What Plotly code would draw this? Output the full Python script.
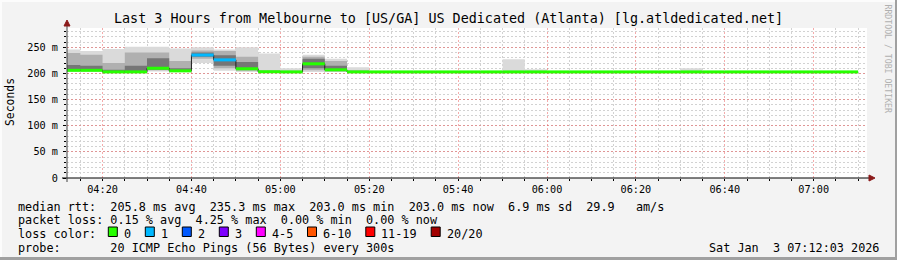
import plotly.graph_objects as go
import pandas as pd

# ---------------- data ----------------
seg_start = list(pd.date_range("2026-01-03 04:10", periods=36, freq="5min"))
seg_len = pd.Timedelta(minutes=5)

median_ms = [206, 206, 203, 203, 210, 205, 235.3, 226, 209, 203.3, 203, 218.5, 207, 203,
             203, 203, 203, 203, 203, 203, 203, 203, 203, 203, 203, 203, 203, 203,
             203, 203, 203, 203, 203, 203, 203, 203]
loss_cnt = [0, 0, 0, 0, 0, 0, 1, 1, 0, 0, 0, 0, 0, 0,
            0, 0, 0, 0, 0, 0, 0, 0, 0, 0, 0, 0, 0, 0,
            0, 0, 0, 0, 0, 0, 0, 0]

outer_lo = [203, 203, 202, 202, 204, 203, 220, 205, 203, 203, 203, 203, 203, 203,
            203, 203, 203, 203, 203, 203, 203, 203, 203, 203, 203, 203, 203, 203,
            203, 203, 203, 203, 203, 203, 203, 203]
outer_hi = [246, 243, 247, 251, 251, 248, 250, 246, 250, 238, 210, 236, 228, 212,
            203, 203, 203, 203, 203, 203, 227, 208, 203, 203, 203, 203, 203, 203,
            210, 203, 203, 203, 203, 203, 203, 203]
mid_lo = [205, 205, 202, 203, 206, 204, 228, 210, 205, 203, 203, 206, 204, 203,
          203, 203, 203, 203, 203, 203, 203, 203, 203, 203, 203, 203, 203, 203,
          203, 203, 203, 203, 203, 203, 203, 203]
mid_hi = [239, 236, 220, 240, 240, 224, 244, 243, 232, 206, 205, 232, 224, 206,
          203, 203, 203, 203, 203, 203, 203, 203, 203, 203, 203, 203, 203, 203,
          203, 203, 203, 203, 203, 203, 203, 203]
inner_lo = [205, 205, 202, 203, 207, 204, 232, 215, 207, 203, 203, 210, 205, 203,
            203, 203, 203, 203, 203, 203, 203, 203, 203, 203, 203, 203, 203, 203,
            203, 203, 203, 203, 203, 203, 203, 203]
inner_hi = [216, 215, 207, 215, 229, 210, 240, 235, 222, 204, 204, 228, 215, 204,
            203, 203, 203, 203, 203, 203, 203, 203, 203, 203, 203, 203, 203, 203,
            203, 203, 203, 203, 203, 203, 203, 203]

loss_labels = ["0", "1", "2", "3", "4-5", "6-10", "11-19", "20/20"]
loss_colors = ["#26ff00", "#00b8ff", "#0059ff", "#7e00ff", "#ff00ff", "#ff5500", "#ff0000", "#a10000"]

y_ticks = [0, 50, 100, 150, 200, 250]
y_ticktext = ["0", "50 m", "100 m", "150 m", "200 m", "250 m"]

title_text = "Last 3 Hours from Melbourne to [US/GA] US Dedicated (Atlanta) [lg.atldedicated.net]"
legend_lines = [
    "median rtt:  205.8 ms avg  235.3 ms max  203.0 ms min  203.0 ms now  6.9 ms sd  29.9   am/s",
    "packet loss: 0.15 % avg  4.25 % max  0.00 % min  0.00 % now",
    "loss color:",
    "probe:       20 ICMP Echo Pings (56 Bytes) every 300s",
]
date_text = "Sat Jan  3 07:12:03 2026"
watermark = "RRDTOOL / TOBI OETIKER"

# ---------------- geometry ----------------
W, H = 897, 260
L, R, T, B = 67, 867, 28, 178
MONO = "DejaVu Sans Mono"


def px(x):
    return (x - L) / (R - L)


def py(y):
    return (B - y) / (B - T)


fig = go.Figure()


def band(lo, hi, color):
    xs, ys = [], []
    for s, a, b in zip(seg_start, lo, hi):
        if b <= a:
            continue
        e = s + seg_len
        xs += [s, e, e, s, s, None]
        ys += [a, a, b, b, a, None]
    fig.add_trace(go.Scatter(x=xs, y=ys, mode="lines", fill="toself", fillcolor=color,
                             line=dict(width=0), hoverinfo="skip", showlegend=False))


band(outer_lo, outer_hi, "#dadada")
band(mid_lo, mid_hi, "#b0b0b0")
band(inner_lo, inner_hi, "#767676")

# thin dark median line (shows the vertical transitions)
fig.add_trace(go.Scatter(x=seg_start + [seg_start[-1] + seg_len], y=median_ms + [median_ms[-1]],
                         mode="lines", line=dict(color="#202020", width=1, shape="hv"),
                         hoverinfo="skip", showlegend=False))


def loss_bucket(n):
    if n <= 3:
        return n
    if n <= 5:
        return 4
    if n <= 10:
        return 5
    if n <= 19:
        return 6
    return 7


for k, col in enumerate(loss_colors):
    xs, ys = [], []
    for s, m, n in zip(seg_start, median_ms, loss_cnt):
        if loss_bucket(n) == k:
            xs += [s, s + seg_len, None]
            ys += [m, m, None]
    if xs:
        fig.add_trace(go.Scatter(x=xs, y=ys, mode="lines", line=dict(color=col, width=3),
                                 hoverinfo="skip", showlegend=False))

shapes = []
annotations = []

# axes lines + arrows
shapes.append(dict(type="line", xref="paper", yref="paper", x0=px(62), x1=px(869), y0=0, y1=0,
                   line=dict(color="#000000", width=1)))
shapes.append(dict(type="line", xref="paper", yref="paper", x0=0, x1=0, y0=py(182), y1=py(25),
                   line=dict(color="#404040", width=1)))
shapes.append(dict(type="path", xref="paper", yref="paper",
                   path=f"M {px(869)} {py(175)} L {px(875)} {py(178)} L {px(869)} {py(181)} Z",
                   fillcolor="#8b1a1a", line=dict(color="#8b1a1a", width=1)))
shapes.append(dict(type="path", xref="paper", yref="paper",
                   path=f"M {px(64)} {py(26)} L {px(67)} {py(20)} L {px(70)} {py(26)} Z",
                   fillcolor="#8b1a1a", line=dict(color="#8b1a1a", width=1)))

# image border (3D frame)
shapes.append(dict(type="rect", xref="paper", yref="paper", x0=px(895), x1=px(897), y0=py(0), y1=py(260),
                   fillcolor="#a0a0a0", line=dict(width=0)))
shapes.append(dict(type="rect", xref="paper", yref="paper", x0=px(0), x1=px(897), y0=py(257), y1=py(260),
                   fillcolor="#a0a0a0", line=dict(width=0)))
shapes.append(dict(type="rect", xref="paper", yref="paper", x0=px(0), x1=px(895), y0=py(0), y1=py(2),
                   fillcolor="#fcfcfc", line=dict(width=0)))
shapes.append(dict(type="rect", xref="paper", yref="paper", x0=px(0), x1=px(2), y0=py(0), y1=py(257),
                   fillcolor="#fcfcfc", line=dict(width=0)))

# title
annotations.append(dict(text=title_text, xref="paper", yref="paper", x=px(448.5), y=py(19),
                        xanchor="center", yanchor="middle", showarrow=False,
                        font=dict(family=MONO, size=13.4, color="#000")))
# y title
annotations.append(dict(text="Seconds", xref="paper", yref="paper", x=px(10), y=py(102),
                        xanchor="center", yanchor="middle", textangle=-90, showarrow=False,
                        font=dict(family=MONO, size=11.4, color="#000")))
# watermark
annotations.append(dict(text=watermark, xref="paper", yref="paper", x=px(887.5), y=py(59),
                        xanchor="center", yanchor="middle", textangle=90, showarrow=False,
                        font=dict(family=MONO, size=8.2, color="#b0b0b0")))

# legend text lines
row_y = [206.5, 220.5, 234.0, 248.3]
for line, yy in zip(legend_lines, row_y):
    annotations.append(dict(text=line.replace(" ", "\u00a0"), xref="paper", yref="paper",
                            x=px(16), y=py(yy), xanchor="left", yanchor="middle", showarrow=False,
                            font=dict(family=MONO, size=11.8, color="#000")))
annotations.append(dict(text=date_text.replace(" ", "\u00a0"), xref="paper", yref="paper",
                        x=px(881), y=py(248.3), xanchor="right", yanchor="middle", showarrow=False,
                        font=dict(family=MONO, size=11.8, color="#000")))

# loss colour boxes
bx = 108.3
for lab, col in zip(loss_labels, loss_colors):
    shapes.append(dict(type="rect", xref="paper", yref="paper", x0=px(bx), x1=px(bx + 9),
                       y0=py(236.5), y1=py(227), fillcolor=col, line=dict(color="#000", width=1)))
    annotations.append(dict(text=lab, xref="paper", yref="paper", x=px(bx + 13.5), y=py(234.0),
                            xanchor="left", yanchor="middle", showarrow=False,
                            font=dict(family=MONO, size=11.8, color="#000")))
    bx += 13.5 + len(lab) * 7.1 + 16.4

fig.update_layout(
    width=W, height=H,
    margin=dict(l=L, r=W - R, t=T, b=H - B, pad=0),
    paper_bgcolor="#f3f3f3", plot_bgcolor="#ffffff",
    showlegend=False,
    shapes=shapes, annotations=annotations,
    xaxis=dict(
        type="date", range=["2026-01-03 04:12", "2026-01-03 07:12"],
        tick0="2026-01-03 04:20", dtick=20 * 60 * 1000, tickformat="%H:%M",
        showgrid=True, gridcolor="rgba(235,90,90,0.5)", griddash="2px,2px", gridwidth=1,
        zeroline=False, showline=False,
        ticks="outside", ticklen=2, tickcolor="#000",
        tickfont=dict(family=MONO, size=10.2, color="#000"),
        minor=dict(dtick=5 * 60 * 1000, tick0="2026-01-03 04:20", showgrid=True,
                   gridcolor="#d2d2d2", griddash="2px,2px", ticks="outside", ticklen=2, tickcolor="#000"),
        fixedrange=True,
    ),
    yaxis=dict(
        range=[0, 287], tickmode="array", tickvals=y_ticks, ticktext=y_ticktext,
        showgrid=True, gridcolor="rgba(235,90,90,0.5)", griddash="2px,2px", gridwidth=1,
        zeroline=False, showline=False,
        ticks="outside", ticklen=3, tickcolor="#000", ticklabelstandoff=3,
        tickfont=dict(family=MONO, size=10.2, color="#000"),
        minor=dict(dtick=10, tick0=0, showgrid=True, gridcolor="#d2d2d2", griddash="2px,2px",
                   ticks="outside", ticklen=2, tickcolor="#000"),
        fixedrange=True,
    ),
)

fig.write_html("out.html", config={"displayModeBar": False})
